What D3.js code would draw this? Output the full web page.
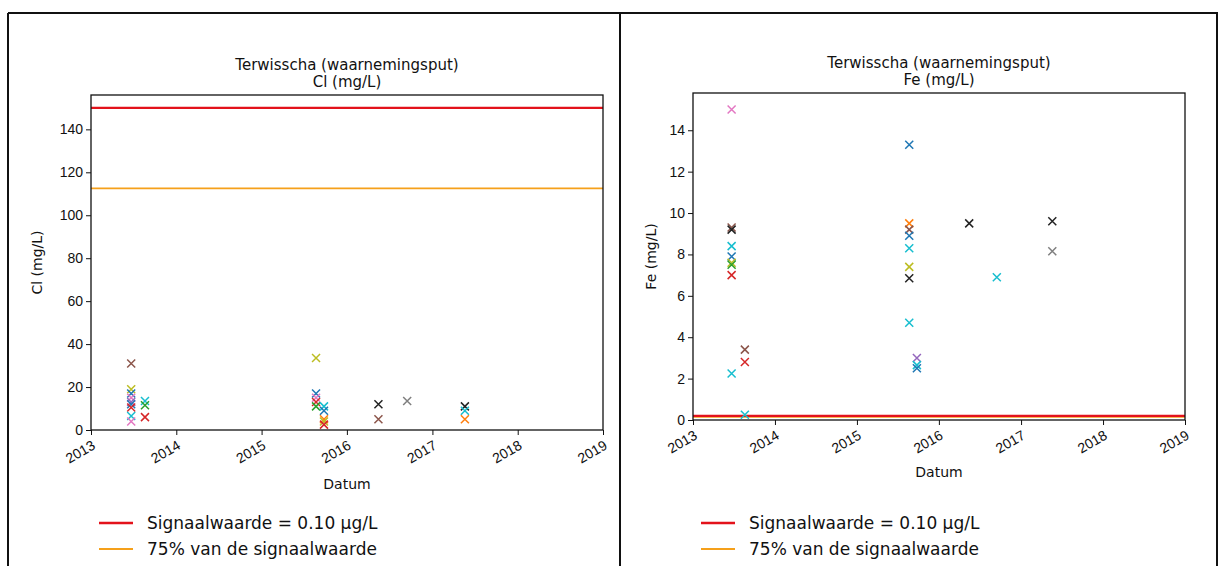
<!DOCTYPE html>
<html>
<head>
<meta charset="utf-8">
<script src="https://cdn.jsdelivr.net/npm/d3@7"></script>
<style>
  body { margin: 0; background: #fff; }
  svg { display: block; font-family: "DejaVu Sans", sans-serif; }
</style>
</head>
<body>
<svg id="chart" width="1220" height="566"></svg>
<script>
// sample dates (shared by both panels)
var sampleDates = ["2013-06-22", "2013-08-20", "2015-08-22", "2015-09-25",
                   "2016-05-15", "2016-09-15", "2017-05-20"];

// Cl (mg/L): date index, value, filter (colour series)
var clDateIdx = [0, 0, 0, 0, 0, 0, 0, 0, 0,  1, 1, 1,  2, 2, 2, 2, 2,  3, 3, 3, 3, 3,  4, 4,  5,  6, 6, 6];
var clValues  = [31, 19, 17, 15, 13, 12, 10.5, 6.5, 4,  13.5, 11.5, 6,  33.5, 17, 15, 13, 11,  11, 9, 5, 4, 2.5,  12, 5,  13.5,  11, 9, 5];
var clFilter  = [5, 8, 0, 6, 4, 0, 3, 9, 6,  9, 2, 3,  8, 0, 6, 3, 2,  9, 0, 1, 8, 3,  10, 5,  7,  10, 9, 1];

// Fe (mg/L)
var feDateIdx = [0, 0, 0, 0, 0, 0, 0, 0, 0,  1, 1, 1,  2, 2, 2, 2, 2, 2, 2, 2,  3, 3, 3,  4,  5,  6, 6];
var feValues  = [15.0, 9.3, 9.2, 8.4, 7.9, 7.6, 7.5, 7.0, 2.25,  3.4, 2.8, 0.25,  13.3, 9.5, 9.2, 8.9, 8.3, 7.4, 6.85, 4.7,  3.0, 2.65, 2.5,  9.5,  6.9,  9.6, 8.15];
var feFilter  = [6, 5, 10, 9, 0, 8, 2, 3, 9,  5, 3, 9,  0, 1, 5, 0, 9, 8, 10, 9,  4, 9, 0,  10,  9,  10, 7];

// norm lines
var clSignal = 150, clSignal75 = 112.5;
var feSignal = 0.2, feSignal75 = 0.15;

var yearTicks = [2013, 2014, 2015, 2016, 2017, 2018, 2019];
var clTicks = [0, 20, 40, 60, 80, 100, 120, 140];
var feTicks = [0, 2, 4, 6, 8, 10, 12, 14];
var legendLabels = ["Signaalwaarde = 0.10 \u00b5g/L", "75% van de signaalwaarde"];

var palette = ["#1f77b4", "#ff7f0e", "#2ca02c", "#d62728", "#9467bd",
               "#8c564b", "#e377c2", "#7f7f7f", "#bcbd22", "#17becf", "#222222"];
var color = d3.scaleOrdinal().domain(d3.range(11)).range(palette);
var parse = d3.timeParse("%Y-%m-%d");

var svg = d3.select("#chart");

// table frame
svg.append("rect").attr("width", 1220).attr("height", 566).attr("fill", "#fff");
var frame = svg.append("g").attr("stroke", "#111").attr("stroke-width", 2);
frame.append("line").attr("x1", 8).attr("x2", 1218).attr("y1", 13).attr("y2", 13);
frame.append("line").attr("x1", 8).attr("x2", 8).attr("y1", 13).attr("y2", 566);
frame.append("line").attr("x1", 620).attr("x2", 620).attr("y1", 13).attr("y2", 566);
frame.append("line").attr("x1", 1217).attr("x2", 1217).attr("y1", 13).attr("y2", 566);

function drawPanel(p) {
  var g = svg.append("g");
  var x = d3.scaleTime()
      .domain([new Date(2013, 0, 1), new Date(2019, 0, 1)])
      .range([p.left, p.right]);
  var y = d3.scaleLinear().domain([0, p.ymax]).range([p.bottom, p.top]);

  // norm lines
  g.append("line").attr("x1", p.left).attr("x2", p.right)
    .attr("y1", y(p.sig75)).attr("y2", y(p.sig75))
    .attr("stroke", "#f5a01a").attr("stroke-width", 1.8);
  g.append("line").attr("x1", p.left).attr("x2", p.right)
    .attr("y1", y(p.sig)).attr("y2", y(p.sig))
    .attr("stroke", "#e3121b").attr("stroke-width", 2.4);

  // points as x markers
  var pts = p.values.map(function(v, i) {
    return { date: parse(sampleDates[p.dateIdx[i]]), value: v, filter: p.filter[i] };
  });
  var s = 4;
  g.selectAll("path.pt").data(pts).enter().append("path")
    .attr("class", "pt")
    .attr("d", function(d) {
      var cx = x(d.date), cy = y(d.value);
      return "M" + (cx - s) + "," + (cy - s) + "L" + (cx + s) + "," + (cy + s) +
             "M" + (cx - s) + "," + (cy + s) + "L" + (cx + s) + "," + (cy - s);
    })
    .attr("stroke", function(d) { return color(d.filter); })
    .attr("stroke-width", 1.5)
    .attr("fill", "none");

  // axes
  var xAxis = g.append("g").attr("transform", "translate(0," + p.bottom + ")")
    .call(d3.axisBottom(x)
      .tickValues(yearTicks.map(function(yr) { return new Date(yr, 0, 1); }))
      .tickFormat(d3.timeFormat("%Y")).tickSize(5).tickSizeOuter(0));
  xAxis.selectAll("text")
    .attr("font-size", 14).attr("fill", "#111")
    .attr("text-anchor", "end")
    .attr("dy", "0.35em")
    .attr("transform", "translate(0,6) rotate(-30)")
    .attr("x", -2).attr("y", 8);

  var yAxis = g.append("g").attr("transform", "translate(" + p.left + ",0)")
    .call(d3.axisLeft(y).tickValues(p.ticks).tickSize(5).tickSizeOuter(0));
  yAxis.selectAll("text").attr("font-size", 14).attr("fill", "#111");
  g.selectAll(".domain").remove();
  g.selectAll(".tick line").attr("stroke", "#111");

  // spines
  g.append("rect").attr("x", p.left).attr("y", p.top)
    .attr("width", p.right - p.left).attr("height", p.bottom - p.top)
    .attr("fill", "none").attr("stroke", "#111").attr("stroke-width", 1.3);

  // titles
  var cx = (p.left + p.right) / 2;
  g.append("text").attr("x", cx).attr("y", p.top - 25.5).attr("text-anchor", "middle")
    .attr("font-size", 15).attr("fill", "#111").text("Terwisscha (waarnemingsput)");
  g.append("text").attr("x", cx).attr("y", p.top - 8).attr("text-anchor", "middle")
    .attr("font-size", 15).attr("fill", "#111").text(p.name);
  g.append("text").attr("x", cx).attr("y", p.datumY).attr("text-anchor", "middle")
    .attr("font-size", 14).attr("fill", "#111").text("Datum");
  g.append("text")
    .attr("transform", "translate(" + p.ylabelX + "," + ((p.top + p.bottom) / 2) + ") rotate(-90)")
    .attr("text-anchor", "middle").attr("font-size", 14).attr("fill", "#111").text(p.name);

  // legend
  var lg = g.append("g").attr("transform", "translate(" + p.legX + ",523)");
  [["#e3121b", 2.4], ["#f5a01a", 1.8]].forEach(function(c, i) {
    lg.append("line").attr("x1", 0).attr("x2", 34).attr("y1", i * 26).attr("y2", i * 26)
      .attr("stroke", c[0]).attr("stroke-width", c[1]);
    lg.append("text").attr("x", 48).attr("y", i * 26).attr("dy", "0.35em")
      .attr("font-size", 17).attr("fill", "#111").text(legendLabels[i]);
  });
}

drawPanel({ left: 91, right: 603, top: 95, bottom: 430, ymax: 156,
  name: "Cl (mg/L)", ticks: clTicks, dateIdx: clDateIdx, values: clValues, filter: clFilter,
  sig: clSignal, sig75: clSignal75, datumY: 489, ylabelX: 42, legX: 99 });

drawPanel({ left: 693, right: 1185, top: 93, bottom: 420, ymax: 15.8,
  name: "Fe (mg/L)", ticks: feTicks, dateIdx: feDateIdx, values: feValues, filter: feFilter,
  sig: feSignal, sig75: feSignal75, datumY: 477, ylabelX: 656, legX: 701 });
</script>
</body>
</html>
